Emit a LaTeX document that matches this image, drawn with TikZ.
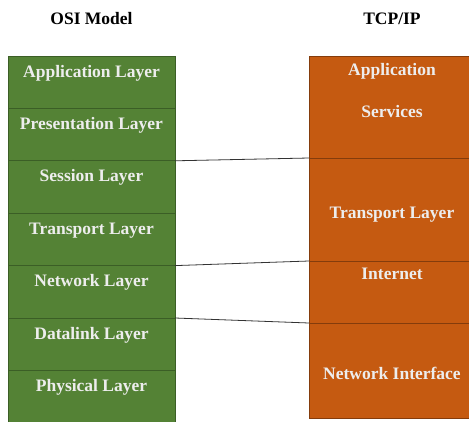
\documentclass[tikz,border=0pt]{standalone}
\usepackage{fontspec}
\setmainfont{Liberation Serif}
\usetikzlibrary{positioning}
\definecolor{osigreen}{HTML}{548235}
\definecolor{osiedge}{HTML}{3B5E26}
\definecolor{tcporange}{HTML}{C55A11}
\definecolor{tcpedge}{HTML}{843C0C}
\definecolor{laytext}{HTML}{EDEDED}
\tikzset{
  osi/.style={draw=osiedge, fill=osigreen, minimum width=167pt, minimum height=52.4pt,
    inner sep=0pt, outer sep=0pt, line width=0.8pt},
  tcp/.style={draw=tcpedge, fill=tcporange, minimum width=166pt,
    inner sep=0pt, outer sep=0pt, line width=0.8pt},
  laytxt/.style={anchor=base, yshift=-#1, text=laytext, inner sep=0pt,
    font=\bfseries\fontsize{17.5}{21}\selectfont},
  laytxt/.default=21pt,
  title/.style={anchor=base, font=\bfseries\fontsize{17.5}{21}\selectfont}
}
\begin{document}
\begin{tikzpicture}[x=1pt,y=-1pt]
        \clip (0,0) rectangle (469,421);

        % titles
        \node[title] (ositext) at (91.5,24) {OSI Model};
        \node[title] (tcptext) at (392,24) {TCP/IP};

        % OSI layers
        \node[osi, anchor=north west, label={[laytxt]north:Application Layer}] (app) at (8,56) {};
        \node[osi, below=0pt of app, label={[laytxt]north:Presentation Layer}] (pres) {};
        \node[osi, below=0pt of pres, label={[laytxt]north:Session Layer}] (sess) {};
        \node[osi, below=0pt of sess, label={[laytxt]north:Transport Layer}] (trans) {};
        \node[osi, below=0pt of trans, label={[laytxt]north:Network Layer}] (net) {};
        \node[osi, below=0pt of net, label={[laytxt]north:Datalink Layer}] (dl) {};
        \node[osi, below=0pt of dl, label={[laytxt]north:Physical Layer}] (phy) {};

        % TCP/IP layers
        \node[tcp, minimum height=102pt, anchor=north west,
              label={[laytxt=19pt]north:Application},
              label={[laytxt=61pt]north:Services}] (tapp) at (309,56) {};
        \node[tcp, minimum height=103pt, below=0pt of tapp,
              label={[laytxt=60pt]north:Transport Layer}] (ttrans) {};
        \node[tcp, minimum height=62pt, below=0pt of ttrans,
              label={[laytxt=18pt]north:Internet}] (tinet) {};
        \node[tcp, minimum height=95pt, below=0pt of tinet,
              label={[laytxt=56pt]north:Network Interface}] (tnif) {};

        % mapping
        \draw[line width=0.8pt, black!80] (sess.north east) -- (tapp.south west);
        \draw[line width=0.8pt, black!80] (net.north east) -- (tinet.north west);
        \draw[line width=0.8pt, black!80] (dl.north east) -- (tnif.north west);
    \end{tikzpicture}
\end{document}
